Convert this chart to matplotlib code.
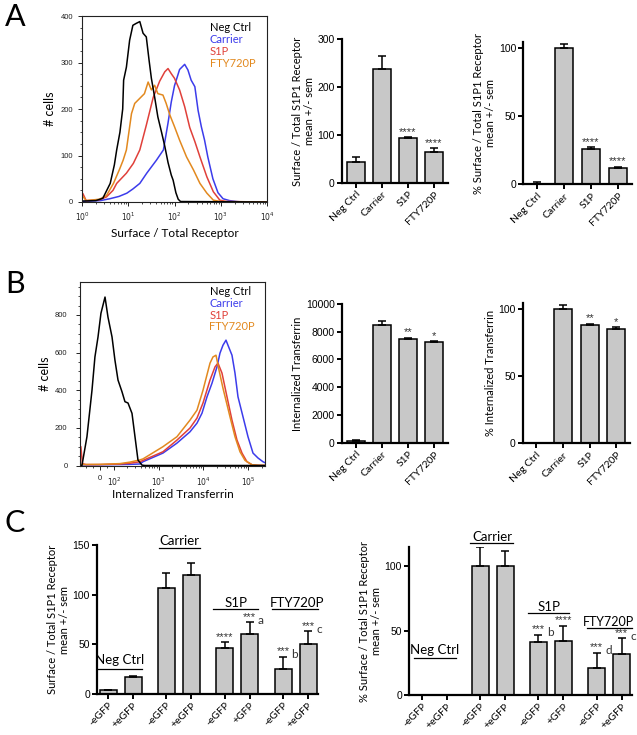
import numpy as np
import matplotlib
matplotlib.use("Agg")
import matplotlib.pyplot as plt
from matplotlib.ticker import FixedLocator, MultipleLocator, NullFormatter

plt.rcParams['font.family'] = ['Liberation Sans', 'DejaVu Sans']
LF = ['Lato', 'DejaVu Sans']

C_NEG, C_CAR, C_S1P, C_FTY = 'black', '#3c3ceb', '#e0403a', '#e2891f'
BAR_FILL = '#c8c8c8'

# ---------------- data ----------------
# Panel A histogram: log10(surface/total receptor), # cells
a_neg_logx = [0.0, 0.30, 0.45, 0.61, 0.70, 0.75, 0.82, 0.88, 0.90, 0.96, 1.03, 1.10, 1.17, 1.25, 1.32,
              1.39, 1.45, 1.50, 1.57, 1.64, 1.72, 1.79, 1.86, 1.93, 1.97, 2.03, 2.08, 2.13, 4.0]
a_neg_cnt = [2, 3, 8, 40, 80, 112, 150, 200, 262, 290, 348, 380, 384, 388, 363,
             355, 305, 266, 226, 183, 150, 120, 85, 58, 47, 20, 6, 1, 0]
a_car_logx = [0.0, 0.40, 0.60, 0.80, 0.97, 1.10, 1.25, 1.40, 1.61, 1.76, 1.86, 1.93, 2.00, 2.11, 2.22,
              2.29, 2.36, 2.44, 2.51, 2.58, 2.65, 2.72, 2.83, 2.94, 3.05, 3.19, 3.34, 3.48, 4.0]
a_car_cnt = [1, 3, 7, 12, 19, 28, 40, 62, 90, 112, 170, 215, 250, 285, 296,
             284, 262, 248, 197, 162, 133, 97, 50, 20, 7, 3, 1, 0, 0]
a_s1p_logx = [0.0, 0.02, 0.09, 0.38, 0.53, 0.67, 0.75, 0.96, 1.11, 1.25, 1.39, 1.54, 1.68, 1.79,
              1.86, 1.93, 2.00, 2.11, 2.22, 2.33, 2.44, 2.55, 2.70, 2.84, 2.98, 3.12, 4.0]
a_s1p_cnt = [10, 18, 3, 5, 11, 25, 40, 62, 83, 112, 165, 225, 260, 280,
             287, 276, 266, 241, 205, 160, 130, 97, 54, 22, 4, 1, 0]
a_fty_logx = [0.0, 0.02, 0.09, 0.38, 0.53, 0.68, 0.81, 0.89, 0.96, 1.07, 1.14, 1.25, 1.35, 1.43, 1.50,
              1.57, 1.64, 1.75, 1.82, 1.90, 2.00, 2.11, 2.26, 2.41, 2.55, 2.70, 2.84, 3.00, 4.0]
a_fty_cnt = [8, 12, 3, 6, 14, 40, 70, 90, 112, 190, 212, 223, 233, 258, 241,
             251, 233, 230, 212, 187, 162, 133, 97, 69, 40, 19, 4, 1, 0]

# Panel B histogram: internalized transferrin, # cells
b_neg_x = [-136, -123, -93, -57, -36, -14, 7, 36, 57, 86, 105, 123, 151, 176, 206, 253, 295, 344, 423, 494, 239000]
b_neg_cnt = [0, 0, 153, 400, 577, 683, 809, 895, 789, 683, 560, 454, 392, 339, 332, 277, 153, 29, 2, 0, 0]
b_car_x = [-136, -110, 0, 136, 228, 382, 445, 1247, 2564, 5012, 7190, 9310, 12050, 15570, 20150,
           23500, 27420, 32050, 35500, 43630, 50930, 59430, 76900, 99500, 128800, 166400, 215300, 239000]
b_car_cnt = [3, 3, 4, 5, 6, 8, 20, 66, 119, 179, 225, 278, 365, 437, 524,
             597, 639, 666, 639, 586, 491, 365, 259, 153, 66, 40, 20, 15]
b_s1p_x = [-136, -130, -120, -100, 0, 136, 228, 382, 445, 1247, 2564, 5012, 7190, 9800, 14070,
           18200, 21200, 26060, 33730, 43630, 56480, 73100, 94400, 122200, 166400, 239000]
b_s1p_cnt = [100, 100, 10, 5, 5, 8, 12, 20, 27, 73, 135, 199, 252, 332, 454,
             524, 544, 491, 365, 241, 135, 66, 20, 4, 1, 0]
b_fty_x = [-136, -110, 0, 136, 228, 382, 445, 1247, 2564, 5012, 7190, 9800, 14070, 16400, 19150,
           22350, 27420, 39350, 50930, 65900, 85300, 122200, 166400, 239000]
b_fty_cnt = [5, 5, 6, 10, 18, 30, 35, 100, 153, 241, 294, 400, 544, 577, 586,
             507, 411, 259, 153, 73, 27, 4, 1, 0]

groups = ['Neg Ctrl', 'Carrier', 'S1P', 'FTY720P']
a_surface = [43, 238, 93, 65]
a_surface_err = [10, 28, 2, 7]
a_pct = [0, 100, 26, 12]
a_pct_err = [2, 3, 1, 0.8]
b_tf = [150, 8500, 7480, 7230]
b_tf_err = [30, 280, 70, 80]
b_pct = [0, 100, 88, 85]
b_pct_err = [0, 3, 1, 1.5]
ab_stars = ['', '', '****', '****']
b_stars = ['', '', '**', '*']

c_labels = ['-eGFP', '+eGFP', '-eGFP', '+eGFP', '-eGFP', '+GFP', '-eGFP', '+eGFP']
c_pos = [0, 1, 2.33, 3.33, 4.66, 5.66, 7, 8]
c_surface = [4, 17, 107, 120, 46, 60, 25, 50]
c_surface_err = [0.5, 1, 15, 12, 6, 12, 12.5, 13]
c_surface_stars = ['', '', '', '', '****', '***', '***', '***']
c_surface_letter = ['', '', '', '', '', 'a', 'b', 'c']
c_pct = [0, 0, 100, 100, 41, 42, 21, 32]
c_pct_err = [0, 0, 15, 12, 6, 12, 12, 12]
c_pct_stars = ['', '', '', '', '***', '****', '***', '***']
c_pct_letter = ['', '', '', '', 'b', '', 'd', 'c']

# ---------------- figure ----------------
W, H = 637, 735
fig = plt.figure(figsize=(W / 100, H / 100), dpi=100)


def box(l, t, r, b):
    return [l / W, 1 - b / H, (r - l) / W, (b - t) / H]


def hist_style(ax):
    for s in ax.spines.values():
        s.set_linewidth(0.8)
        s.set_color('#222222')
    ax.tick_params(which='major', direction='out', length=3, width=0.7, labelsize=5.5, colors='#222222')
    ax.tick_params(which='minor', direction='out', length=1.6, width=0.5)


def legend_text(ax, x, ys):
    for y, txt, col in zip(ys, groups, [C_NEG, C_CAR, C_S1P, C_FTY]):
        ax.text(x, y, txt, transform=ax.transAxes, color=col, fontsize=8, family=LF, va='center')


def bar_panel(ax, pos, vals, errs, ylim, yticks, labels, ylabel, stars=None, letters=None,
              width=0.68, star_fs=8, labelpad=2):
    ax.bar(pos, vals, width=width, color=BAR_FILL, edgecolor='black', linewidth=1.1, zorder=2)
    ax.errorbar(pos, vals, yerr=[np.zeros(len(vals)), errs], fmt='none', ecolor='black',
                elinewidth=1.1, capsize=3.2, capthick=1.1, zorder=3)
    ax.set_ylim(*ylim)
    ax.set_yticks(yticks)
    ax.spines[['top', 'right']].set_visible(False)
    ax.spines[['left', 'bottom']].set_linewidth(1.6)
    ax.tick_params(direction='out', length=3.5, width=1.4, labelsize=7.5, pad=1.5)
    ax.set_xticks(pos)
    ax.set_xticklabels(labels, rotation=45, ha='right', rotation_mode='anchor',
                       fontfamily=LF, fontsize=7.5)
    ax.set_ylabel(ylabel, fontfamily=LF, fontsize=8, linespacing=1.1, labelpad=labelpad)
    if stars:
        for i, s in enumerate(stars):
            if not s:
                continue
            top = vals[i] + errs[i]
            ax.annotate(s, (pos[i], top), xytext=(0, 0.5), textcoords='offset points',
                        ha='center', va='bottom', fontsize=star_fs, color='#333333')
            if letters and letters[i]:
                ax.annotate(letters[i], (pos[i], top), xytext=(len(s) * 2.2 - 0.5, -2.5),
                            textcoords='offset points', ha='left', va='bottom',
                            fontsize=8.5, family=LF, color='#333333')


def group_label(ax, x, y, text, x0, x1, yline, fs=9.5):
    ax.text(x, y, text, ha='center', va='center', fontsize=fs, family=LF, clip_on=False)
    ax.plot([x0, x1], [yline, yline], color='black', lw=0.9, clip_on=False)


# ---- A histogram
axA = fig.add_axes(box(82, 16, 267, 202))
for lx, cnt, col in [(a_car_logx, a_car_cnt, C_CAR), (a_s1p_logx, a_s1p_cnt, C_S1P),
                     (a_fty_logx, a_fty_cnt, C_FTY), (a_neg_logx, a_neg_cnt, C_NEG)]:
    axA.plot(10 ** np.array(lx), cnt, color=col, lw=1.1)
axA.set_xscale('log')
axA.set_xlim(1, 1e4)
axA.set_ylim(0, 400)
axA.set_yticks([0, 100, 200, 300, 400])
axA.yaxis.set_minor_locator(MultipleLocator(25))
axA.set_xticks([1, 10, 100, 1000, 10000])
axA.set_xticklabels(['$10^0$', '$10^1$', '$10^2$', '$10^3$', '$10^4$'])
hist_style(axA)
axA.set_ylabel('# cells', fontfamily=LF, fontsize=9, labelpad=3)
axA.set_xlabel('Surface / Total Receptor', fontfamily=LF, fontsize=8.5, labelpad=3)
legend_text(axA, 0.69, [0.94, 0.875, 0.81, 0.745])

# ---- A bars
axA1 = fig.add_axes(box(341.7, 39.3, 448, 182.7))
bar_panel(axA1, range(4), a_surface, a_surface_err, (0, 300), [0, 100, 200, 300], groups,
          'Surface / Total S1P1 Receptor\nmean +/- sem', stars=ab_stars)
axA1.set_xlim(-0.54, 3.54)

axA2 = fig.add_axes(box(523.3, 41.7, 631.7, 184.3))
bar_panel(axA2, range(4), a_pct, a_pct_err, (0, 104.4), [0, 50, 100], groups,
          '% Surface / Total S1P1 Receptor\nmean +/- sem', stars=ab_stars)
axA2.set_xlim(-0.51, 3.51)

# ---- B histogram
axB = fig.add_axes(box(80, 282, 265, 465.5))
for xv, cnt, col in [(b_car_x, b_car_cnt, C_CAR), (b_s1p_x, b_s1p_cnt, C_S1P),
                     (b_fty_x, b_fty_cnt, C_FTY), (b_neg_x, b_neg_cnt, C_NEG)]:
    axB.plot(xv, cnt, color=col, lw=1.1)
axB.set_xscale('symlog', linthresh=100, linscale=0.282)
axB.set_xlim(-136, 239000)
axB.set_ylim(0, 975)
axB.set_yticks([0, 200, 400, 600, 800])
axB.yaxis.set_minor_locator(MultipleLocator(50))
axB.set_xticks([0, 100, 1000, 10000, 100000])
axB.set_xticklabels(['0', '$10^2$', '$10^3$', '$10^4$', '$10^5$'])
minor_b = [-100, -50, 50] + [m * 10 ** k for k in (2, 3, 4) for m in range(2, 10)] + [2e5]
axB.xaxis.set_minor_locator(FixedLocator(minor_b))
axB.xaxis.set_minor_formatter(NullFormatter())
hist_style(axB)
axB.tick_params(axis='y', pad=6)
axB.tick_params(axis='x', pad=4)
axB.set_ylabel('# cells', fontfamily=LF, fontsize=9, labelpad=3)
axB.set_xlabel('Internalized Transferrin', fontfamily=LF, fontsize=8.5, labelpad=1)
legend_text(axB, 0.70, [0.95, 0.885, 0.82, 0.755])

# ---- B bars
axB1 = fig.add_axes(box(341.7, 304, 448, 442.7))
bar_panel(axB1, range(4), b_tf, b_tf_err, (0, 10000), [0, 2000, 4000, 6000, 8000, 10000], groups,
          'Internalized Transferrin', stars=b_stars)
axB1.set_xlim(-0.54, 3.54)

axB2 = fig.add_axes(box(522.7, 303, 630, 443.3))
bar_panel(axB2, range(4), b_pct, b_pct_err, (0, 104.7), [0, 50, 100], groups,
          '% Internalized Transferrin', stars=b_stars)
axB2.set_xlim(-0.51, 3.51)

# ---- C left
axC1 = fig.add_axes(box(97, 545, 318, 694))
bar_panel(axC1, c_pos, c_surface, c_surface_err, (0, 150), [0, 50, 100, 150], c_labels,
          'Surface / Total S1P1 Receptor\nmean +/- sem', stars=c_surface_stars,
          letters=c_surface_letter)
axC1.set_xlim(-0.44, 8.4)
group_label(axC1, 0.48, 34, 'Neg Ctrl', -0.4, 1.36, 25)
group_label(axC1, 2.86, 154, 'Carrier', 2.05, 3.68, 147)
group_label(axC1, 5.12, 92, 'S1P', 4.2, 6.0, 86)
group_label(axC1, 7.55, 92, 'FTY720P', 6.55, 8.4, 86)

# ---- C right
axC2 = fig.add_axes(box(409, 547, 632, 695))
bar_panel(axC2, c_pos, c_pct, c_pct_err, (0, 115), [0, 50, 100], c_labels,
          '% Surface / Total S1P1 Receptor\nmean +/- sem', stars=c_pct_stars,
          letters=c_pct_letter)
axC2.set_xlim(-0.51, 8.41)
group_label(axC2, 0.53, 35, 'Neg Ctrl', -0.3, 1.37, 29)
group_label(axC2, 2.81, 123, 'Carrier', 1.93, 3.65, 118)
group_label(axC2, 5.1, 68.5, 'S1P', 4.25, 5.9, 64)
group_label(axC2, 7.45, 57, 'FTY720P', 6.6, 8.4, 52, fs=9)

# panel letters
for txt, y in [('A', 17), ('B', 284), ('C', 523)]:
    fig.text(15 / W, 1 - y / H, txt, fontsize=22, family=LF, ha='center', va='center',
             color='black')

fig.savefig('out.png', dpi=100)
